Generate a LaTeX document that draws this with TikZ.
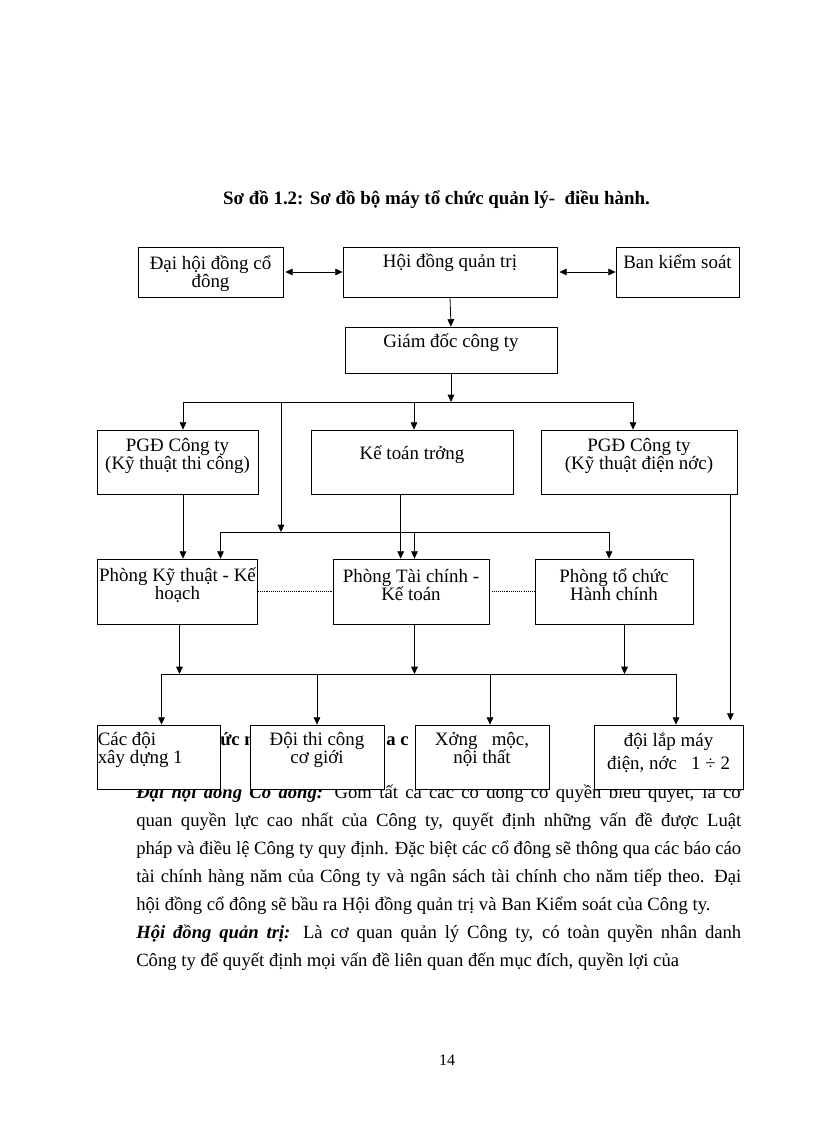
\documentclass[tikz,border=0pt]{standalone}
\usepackage{fontspec}
\setmainfont{Liberation Serif}
\usetikzlibrary{arrows.meta}

\tikzset{
  box/.style={draw, fill=white, inner sep=0pt, line width=0.6pt},
  wh/.style 2 args={minimum width=#1*0.75pt, minimum height=#2*0.75pt},
  txt/.style={font=\fontsize{14.2}{13.5}\selectfont, align=center, inner sep=0pt},
  arr/.style={-{Triangle[length=5.5pt,width=5pt]}, line width=0.6pt},
  dbl/.style={{Triangle[length=5.5pt,width=5pt]}-{Triangle[length=5.5pt,width=5pt]}, line width=0.6pt, shorten <=1.5pt},
  link/.style={line width=0.6pt},
  dots/.style={line width=0.5pt, dash pattern=on 0.8pt off 0.8pt}
}

\begin{document}
\begin{tikzpicture}[x=0.75pt, y=-0.75pt]
\useasboundingbox (0,0) rectangle (816,1123);

% title
\node[font=\bfseries\fontsize{14.2}{17}\selectfont] (title) at (436.5,200) {Sơ đồ 1.2: Sơ đồ bộ máy tổ chức quản lý-\ \ điều hành.};

% text of the page, the bottom row sits over its first line
\node[anchor=base west, inner sep=0pt, text width=453.75pt, align=justify, font=\fontsize{14}{21}\selectfont] (body) at (136,798)
  {\hyphenpenalty=10000 \textbf{\textit{Đại hội đồng Cổ đông:}} Gồm tất cả các cổ đông có quyền biểu quyết, là cơ\linebreak
   quan quyền lực cao nhất của Công ty, quyết định những vấn đề được Luật\linebreak
   pháp và điều lệ Công ty quy định. Đặc biệt các cổ đông sẽ thông qua các báo cáo\linebreak
   tài chính hàng năm của Công ty và ngân sách tài chính cho năm tiếp theo. Đại\linebreak
   hội đồng cổ đông sẽ bầu ra Hội đồng quản trị và Ban Kiểm soát của Công ty.\par
   \textbf{\textit{Hội đồng quản trị:}} Là cơ quan quản lý Công ty, có toàn quyền nhân danh\linebreak
   Công ty để quyết định mọi vấn đề liên quan đến mục đích, quyền lợi của};
\node[anchor=base west, inner sep=0pt, font=\bfseries\fontsize{14}{17}\selectfont] (frag1) at (220,745) {ức n};
\node[anchor=base west, inner sep=0pt, font=\bfseries\fontsize{14}{17}\selectfont] (frag2) at (386,745) {a c};

% boxes
\node[box, wh={145}{50}] (dhcd) at (210.5,272) {};
\node[box, wh={214}{50}] (hdqt) at (450,272) {};
\node[box, wh={123}{50}] (bks) at (677.5,272) {};
\node[box, wh={212}{46}] (gd) at (451,350) {};
\node[box, wh={161}{64}] (pgd1) at (177.5,462) {};
\node[box, wh={202}{64}] (ktt) at (412,462) {};
\node[box, wh={196}{64}] (pgd2) at (639,462) {};
\node[box, wh={160}{65}] (pkt) at (177.5,591.5) {};
\node[box, wh={156}{65}] (ptc) at (411,591.5) {};
\node[box, wh={158}{65}] (ptchc) at (614,591.5) {};
\node[box, wh={123}{64}] (cd) at (158.5,757) {};
\node[box, wh={134}{64}] (dtc) at (317,757) {};
\node[box, wh={134}{64}] (xm) at (482,757) {};
\node[box, wh={149}{64}] (dlm) at (668.5,757) {};

% texts in the boxes
\node[txt] (dhcd-t) at (210.5,274) {Đại hội đồng cổ\\đông};
\node[txt] (hdqt-t) at (450,263) {Hội đồng quản trị};
\node[txt] (bks-t) at (677.5,262) {Ban kiểm soát};
\node[txt] (gd-t) at (451,343) {Giám đốc công ty};
\node[txt] (pgd1-t) at (177.5,456) {PGĐ Công ty\\(Kỹ thuật thi công)};
\node[txt] (ktt-t) at (412,455) {Kế toán trởng};
\node[txt] (pgd2-t) at (639,456) {PGĐ Công ty\\(Kỹ thuật điện nớc)};
\node[txt] (pkt-t) at (177.5,585) {Phòng Kỹ thuật - Kế\\hoạch};
\node[txt] (ptc-t) at (411,585) {Phòng Tài chính -\\Kế toán};
\node[txt] (ptchc-t) at (614,585) {Phòng tổ chức\\Hành chính};
\node[txt, align=left, anchor=west] (cd-t) at (97.5,749.5) {Các đội\\xây dựng 1};
\node[txt] (dtc-t) at (317,749.5) {Đội thi công\\cơ giới};
\node[txt] (xm-t) at (482,749.5) {Xởng\ \ \ mộc,\\nội thất};
\node[txt] (dlm-t) at (668.5,753) {đội lắp máy\\[3.5pt]điện, nớc\ \ \ 1 ÷ 2};

% top rows
\draw[dbl] (dhcd.east) -- (hdqt.west);
\draw[dbl] (hdqt.east) -- (bks.west);
\draw[arr] (hdqt.south) -- (gd.north);

\coordinate (b1) at (451,402);
\coordinate (b1l) at (183,402);
\coordinate (b1m) at (281,402);
\coordinate (b1r) at (633,402);
\draw[arr] (gd.south) -- (b1);
\draw[link] (b1l) -- (b1r);
\draw[arr] (b1l) -- (b1l |- pgd1.north);
\draw[arr] (414,402) -- (414,402 |- ktt.north);
\draw[arr] (b1r) -- (b1r |- pgd2.north);

% departments
\coordinate (b2l) at (220.5,532);
\coordinate (b2r) at (609,532);
\draw[arr] (b1m) -- (b1m |- b2l);
\draw[link] (b2l) -- (b2r);
\draw[arr] (b2l) -- (b2l |- pkt.north);
\draw[arr] (414.5,532) -- (414.5,532 |- ptc.north);
\draw[arr] (b2r) -- (b2r |- ptchc.north);
\draw[arr] (pgd1.south -| b1l) -- (b1l |- pkt.north);
\draw[arr] ([xshift=-8.5pt]ktt.south) -- ([xshift=-8.5pt]ktt.south |- ptc.north);
\draw[arr, shorten >=3pt] ([xshift=-5.25pt]pgd2.south east) -- ([xshift=-5.25pt]pgd2.south east |- dlm.north);
\draw[dots] (pkt.east) -- (ptc.west);
\draw[dots] (ptc.east) -- (ptchc.west);

% teams
\coordinate (b3l) at (161.5,674);
\coordinate (b3r) at (676,674);
\draw[arr] ([xshift=1.5pt]pkt.south) -- ([xshift=1.5pt]pkt.south |- b3l);
\draw[arr] ([xshift=2.6pt]ptc.south) -- ([xshift=2.6pt]ptc.south |- b3l);
\draw[arr] ([xshift=7.9pt]ptchc.south) -- ([xshift=7.9pt]ptchc.south |- b3l);
\draw[link] (b3l) -- (b3r);
\foreach \x/\n in {161.5/cd, 317/dtc, 490/xm, 676/dlm}
  \draw[arr] (\x,674) -- (\x,674 |- \n.north);

% page number
\node[font=\fontsize{12}{14}\selectfont] (pageno) at (447,1060) {14};
\end{tikzpicture}
\end{document}
